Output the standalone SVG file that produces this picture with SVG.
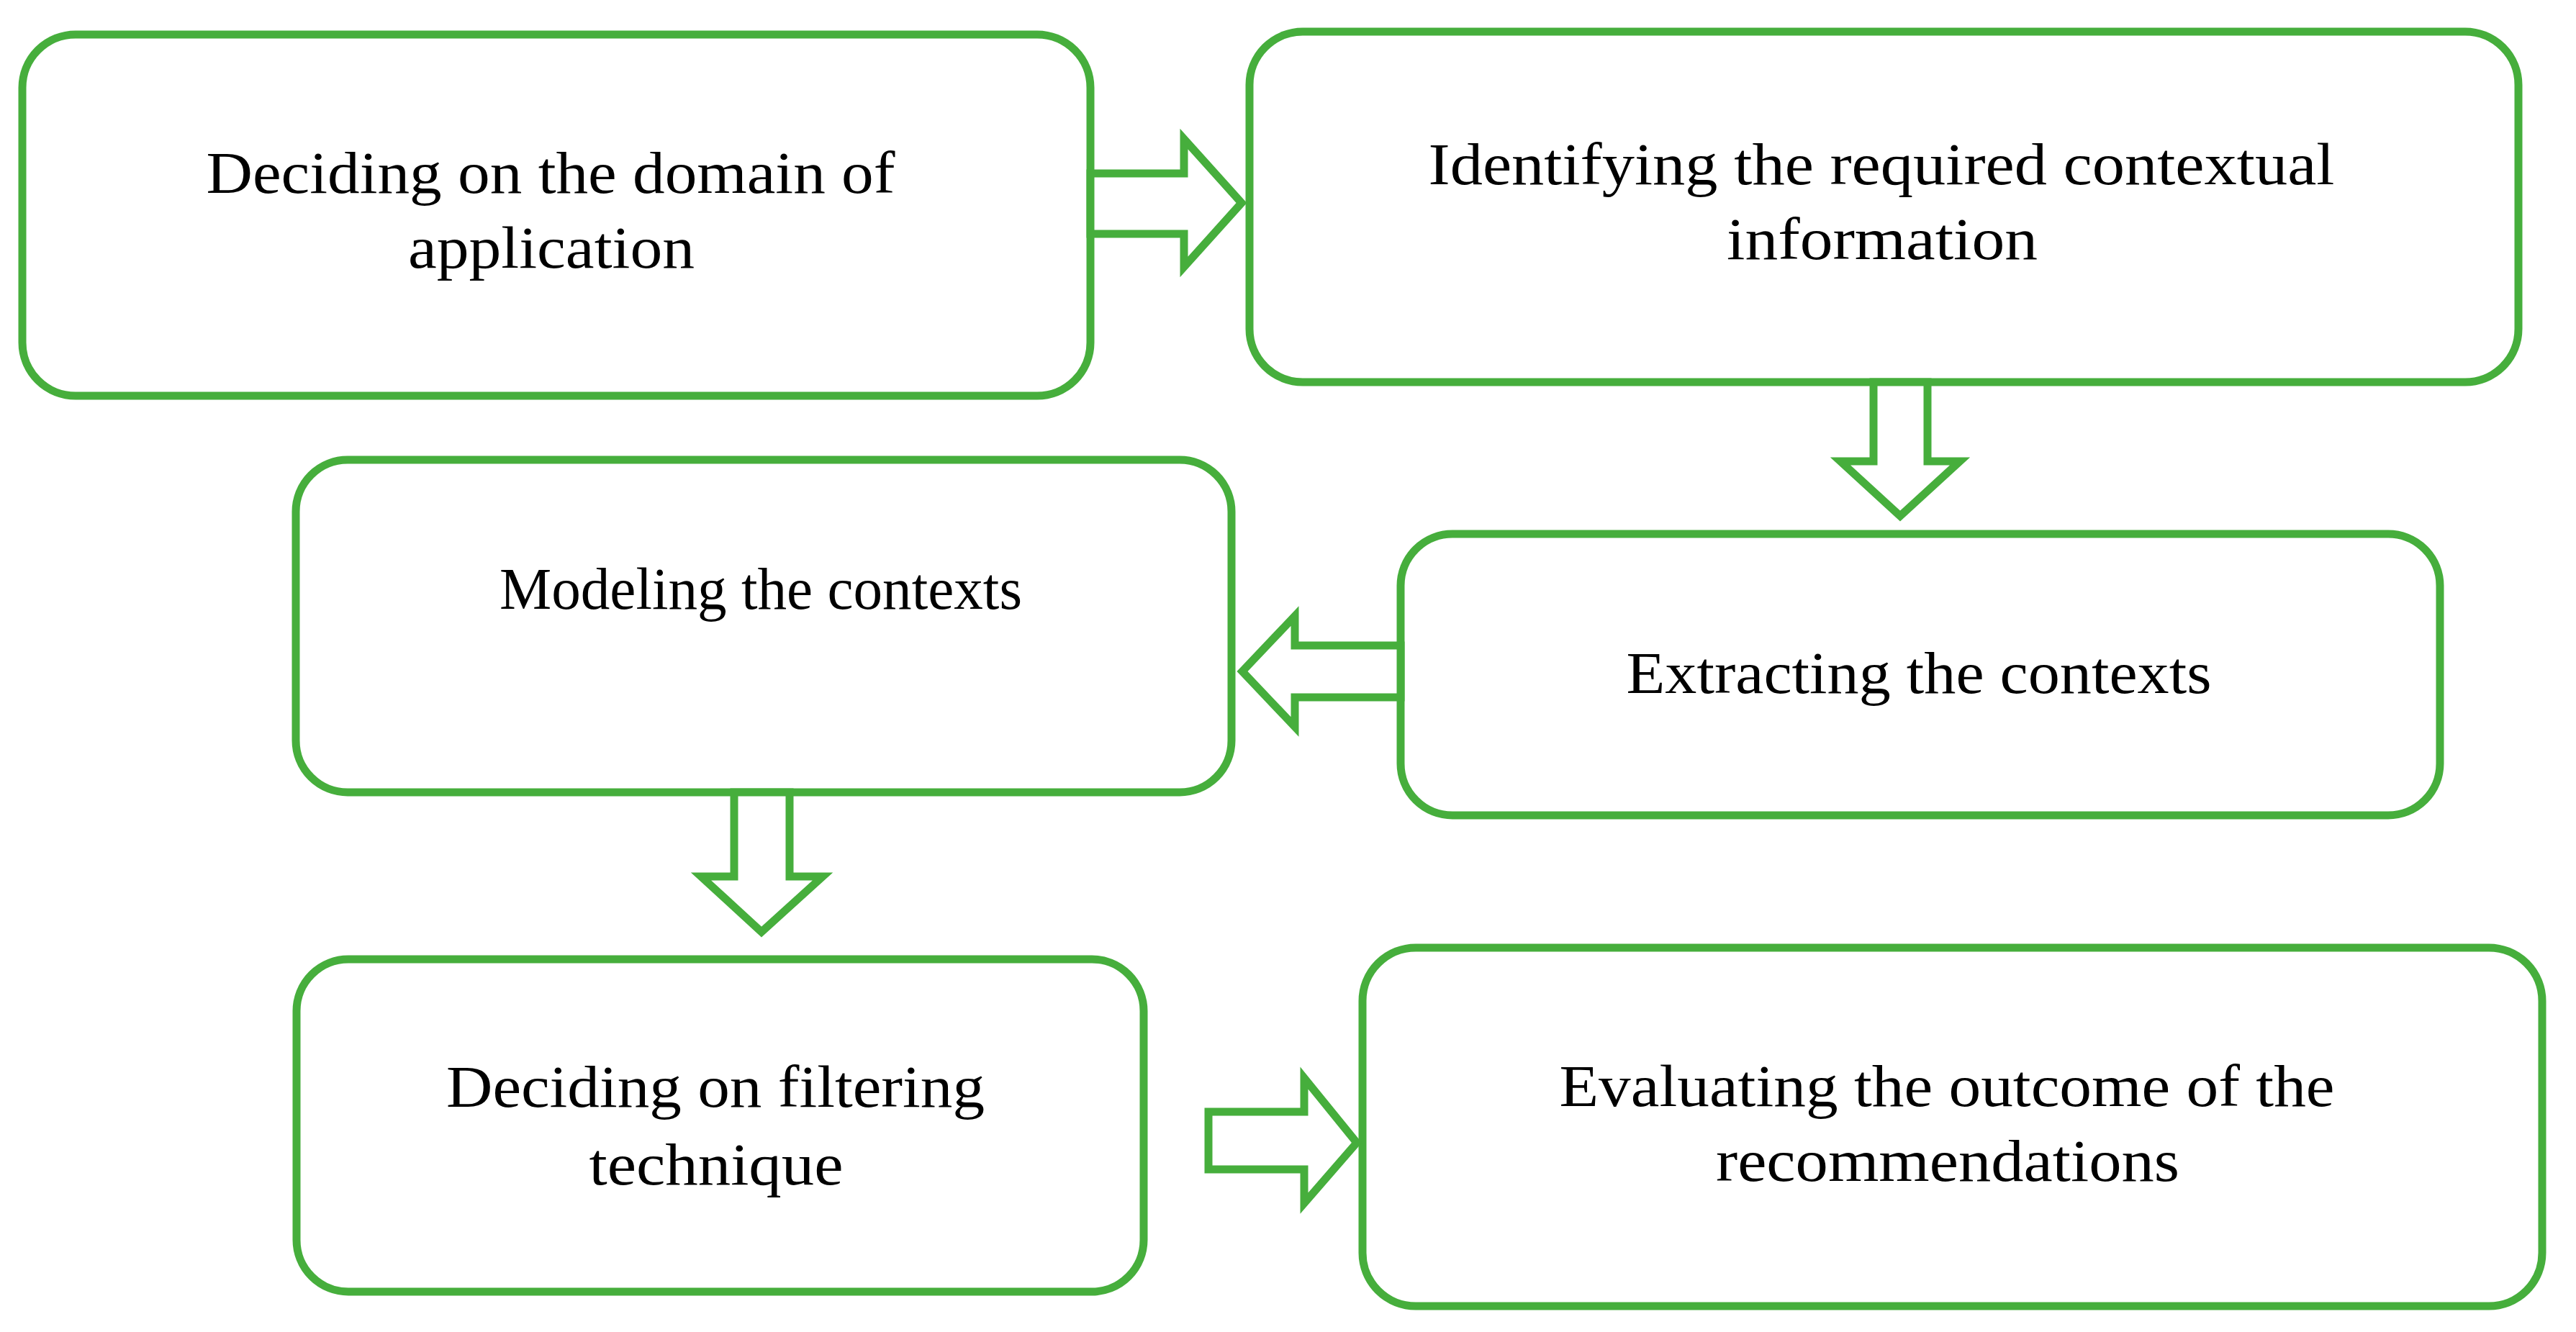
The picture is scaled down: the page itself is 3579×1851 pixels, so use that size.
<svg xmlns="http://www.w3.org/2000/svg" width="3579" height="1851" viewBox="0 0 3579 1851">
<style>
.box{fill:#ffffff;stroke:#46ae3c;stroke-width:11}
.arr{fill:#ffffff;stroke:#46ae3c;stroke-width:11;stroke-linejoin:miter}
.lbl{font-family:"Liberation Serif","Times New Roman",serif;font-size:82px;fill:#000000;text-anchor:middle}
</style>
<rect x="0" y="0" width="3579" height="1851" fill="#ffffff"/>
<g id="node1">
<rect class="box" x="31" y="48" width="1484" height="502" rx="74" ry="74"/>
<text class="lbl" x="765" y="268" textLength="957" lengthAdjust="spacingAndGlyphs">Deciding on the domain of</text>
<text class="lbl" x="766" y="372" textLength="398" lengthAdjust="spacingAndGlyphs">application</text>
</g>
<g id="node2">
<rect class="box" x="1736" y="44" width="1763" height="487" rx="74" ry="74"/>
<text class="lbl" x="2614" y="256" textLength="1259" lengthAdjust="spacingAndGlyphs">Identifying the required contextual</text>
<text class="lbl" x="2615" y="360" textLength="432" lengthAdjust="spacingAndGlyphs">information</text>
</g>
<g id="node3">
<rect class="box" x="411" y="639" width="1300" height="462" rx="72" ry="72"/>
<text class="lbl" x="1057" y="846" textLength="726" lengthAdjust="spacingAndGlyphs">Modeling the contexts</text>
</g>
<g id="node4">
<rect class="box" x="1946" y="742" width="1444" height="391" rx="72" ry="72"/>
<text class="lbl" x="2666" y="963" textLength="813" lengthAdjust="spacingAndGlyphs">Extracting the contexts</text>
</g>
<g id="node5">
<rect class="box" x="412" y="1333" width="1177" height="462" rx="72" ry="72"/>
<text class="lbl" x="994" y="1538" textLength="748" lengthAdjust="spacingAndGlyphs">Deciding on filtering</text>
<text class="lbl" x="995" y="1646" textLength="353" lengthAdjust="spacingAndGlyphs">technique</text>
</g>
<g id="node6">
<rect class="box" x="1893" y="1317" width="1639" height="498" rx="74" ry="74"/>
<text class="lbl" x="2705" y="1537" textLength="1077" lengthAdjust="spacingAndGlyphs">Evaluating the outcome of the</text>
<text class="lbl" x="2706" y="1641" textLength="644" lengthAdjust="spacingAndGlyphs">recommendations</text>
</g>
<g id="connectors">
<polygon class="arr" points="1515,241 1645,241 1645,193 1725,282 1645,371 1645,325 1515,325"/>
<polygon class="arr" points="2603,531 2603,641 2557,641 2640,717 2723,641 2678,641 2678,531"/>
<polygon class="arr" points="1946,897 1799,897 1799,856 1726,933 1799,1010 1799,969 1946,969"/>
<polygon class="arr" points="1020,1101 1020,1218 974,1218 1058,1295 1143,1218 1097,1218 1097,1101"/>
<polygon class="arr" points="1679,1545 1812,1545 1812,1498 1885,1588 1812,1672 1812,1625 1679,1625"/>
</g>
</svg>
